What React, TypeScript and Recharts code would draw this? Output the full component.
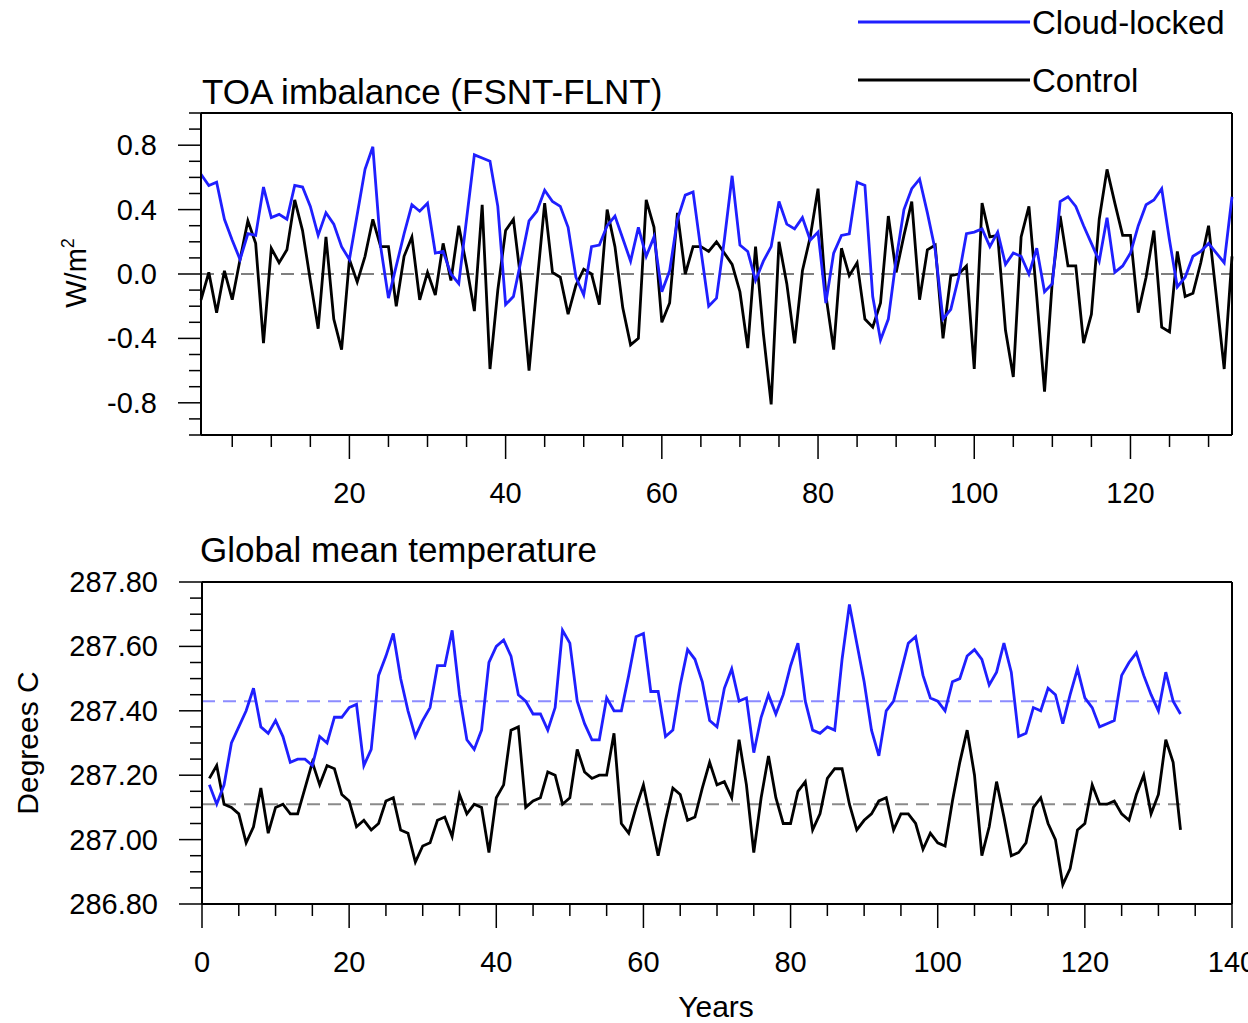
import { LineChart, Line, XAxis, YAxis, ReferenceLine, Legend } from "recharts";

const FONT = '"Liberation Sans", Arial, Helvetica, sans-serif';

// TOA imbalance (W/m2), years 1..133
const toaCloud = [
  0.62, 0.55, 0.57, 0.34, 0.21, 0.09, 0.25, 0.24, 0.54, 0.35,
  0.37, 0.34, 0.55, 0.54, 0.42, 0.24, 0.38, 0.31, 0.17, 0.09,
  0.37, 0.65, 0.79, 0.17, -0.15, 0.05, 0.25, 0.43, 0.39, 0.44,
  0.13, 0.14, 0.0, -0.06, 0.34, 0.74, 0.72, 0.7, 0.42, -0.19,
  -0.14, 0.09, 0.33, 0.39, 0.52, 0.45, 0.42, 0.29, -0.02, -0.13,
  0.17, 0.18, 0.3, 0.36, 0.22, 0.08, 0.29, 0.11, 0.23, -0.11,
  0.02, 0.34, 0.49, 0.51, 0.15, -0.2, -0.15, 0.21, 0.61, 0.18,
  0.14, -0.04, 0.08, 0.17, 0.45, 0.31, 0.28, 0.35, 0.21, 0.26,
  -0.18, 0.13, 0.24, 0.25, 0.57, 0.55, -0.14, -0.41, -0.28, 0.09,
  0.4, 0.53, 0.59, 0.38, 0.15, -0.28, -0.22, -0.02, 0.25, 0.26,
  0.28, 0.17, 0.26, 0.06, 0.13, 0.11, 0.0, 0.16, -0.11, -0.06,
  0.45, 0.48, 0.42, 0.3, 0.19, 0.08, 0.35, 0.01, 0.05, 0.13,
  0.3, 0.43, 0.46, 0.53, 0.21, -0.08, -0.02, 0.11, 0.14, 0.19,
  0.13, 0.07, 0.48,
];

const toaControl = [
  -0.16, 0.01, -0.24, 0.02, -0.16, 0.09, 0.33, 0.19, -0.43, 0.16,
  0.07, 0.15, 0.46, 0.27, -0.04, -0.34, 0.23, -0.28, -0.47, 0.09,
  -0.05, 0.11, 0.34, 0.17, 0.17, -0.2, 0.11, 0.23, -0.16, 0.01,
  -0.13, 0.19, -0.04, 0.3, 0.05, -0.23, 0.43, -0.59, -0.1, 0.27,
  0.34, -0.06, -0.6, -0.07, 0.44, 0.01, -0.02, -0.25, -0.07, 0.03,
  0.0, -0.19, 0.4, 0.17, -0.21, -0.44, -0.4, 0.46, 0.29, -0.3,
  -0.18, 0.38, 0.0, 0.17, 0.17, 0.14, 0.2, 0.13, 0.06, -0.11,
  -0.46, 0.17, -0.37, -0.81, 0.2, -0.06, -0.43, 0.02, 0.23, 0.53,
  -0.13, -0.47, 0.16, -0.01, 0.07, -0.28, -0.33, -0.18, 0.36, 0.01,
  0.24, 0.45, -0.16, 0.15, 0.18, -0.4, -0.01, 0.0, 0.05, -0.59,
  0.44, 0.23, 0.24, -0.35, -0.64, 0.23, 0.42, -0.14, -0.73, -0.04,
  0.36, 0.05, 0.05, -0.43, -0.25, 0.34, 0.65, 0.44, 0.24, 0.24,
  -0.24, -0.02, 0.27, -0.33, -0.36, 0.14, -0.14, -0.12, 0.07, 0.3,
  -0.14, -0.59, 0.11,
];

// Global mean temperature, years 1..133
const tempCloud = [
  287.17, 287.11, 287.17, 287.3, 287.35, 287.4, 287.47, 287.35, 287.33, 287.37,
  287.32, 287.24, 287.25, 287.25, 287.23, 287.32, 287.3, 287.38, 287.38, 287.41,
  287.42, 287.23, 287.28, 287.51, 287.57, 287.64, 287.5, 287.4, 287.32, 287.37,
  287.41, 287.54, 287.54, 287.65, 287.45, 287.31, 287.28, 287.34, 287.55, 287.6,
  287.62, 287.57, 287.45, 287.43, 287.39, 287.39, 287.34, 287.41, 287.65, 287.61,
  287.43, 287.36, 287.31, 287.31, 287.44, 287.4, 287.4, 287.51, 287.63, 287.64,
  287.46, 287.46, 287.32, 287.34, 287.48, 287.59, 287.56, 287.49, 287.37, 287.35,
  287.47, 287.53, 287.43, 287.44, 287.27, 287.38, 287.45, 287.39, 287.45, 287.54,
  287.61, 287.43, 287.34, 287.33, 287.35, 287.34, 287.56, 287.73, 287.61, 287.49,
  287.34, 287.26, 287.4, 287.43, 287.52, 287.61, 287.63, 287.51, 287.44, 287.43,
  287.4, 287.49, 287.5, 287.57, 287.59, 287.56, 287.48, 287.52, 287.61, 287.52,
  287.32, 287.33, 287.41, 287.4, 287.47, 287.45, 287.36, 287.45, 287.53, 287.44,
  287.41, 287.35, 287.36, 287.37, 287.51, 287.55, 287.58, 287.51, 287.45, 287.4,
  287.52, 287.43, 287.39,
];

const tempControl = [
  287.19, 287.23, 287.11, 287.1, 287.08, 286.99, 287.04, 287.16, 287.02, 287.1,
  287.11, 287.08, 287.08, 287.16, 287.24, 287.17, 287.23, 287.22, 287.14, 287.12,
  287.04, 287.06, 287.03, 287.05, 287.12, 287.13, 287.03, 287.02, 286.93, 286.98,
  286.99, 287.06, 287.07, 287.01, 287.14, 287.08, 287.11, 287.1, 286.96, 287.13,
  287.17, 287.34, 287.35, 287.1, 287.12, 287.13, 287.21, 287.2, 287.11, 287.13,
  287.28, 287.21, 287.19, 287.2, 287.2, 287.33, 287.05, 287.02, 287.1, 287.17,
  287.06, 286.95, 287.06, 287.16, 287.14, 287.06, 287.07, 287.16, 287.24, 287.17,
  287.18, 287.13, 287.31, 287.17, 286.96, 287.13, 287.26, 287.13, 287.05, 287.05,
  287.15, 287.18, 287.03, 287.08, 287.19, 287.22, 287.22, 287.11, 287.03, 287.06,
  287.08, 287.12, 287.13, 287.03, 287.08, 287.08, 287.05, 286.97, 287.02, 286.99,
  286.98, 287.12, 287.24, 287.34, 287.2, 286.95, 287.04, 287.18, 287.07, 286.95,
  286.96, 286.99, 287.1, 287.13, 287.05, 287.0, 286.86, 286.91, 287.03, 287.05,
  287.17, 287.11, 287.11, 287.12, 287.08, 287.06, 287.14, 287.2, 287.08, 287.14,
  287.31, 287.24, 287.03,
];

const cloudMean = 287.43;
const controlMean = 287.11;

const topXTicks = [5, 10, 15, 20, 25, 30, 35, 40, 45, 50, 55, 60, 65, 70, 75, 80, 85, 90, 95, 100, 105, 110, 115, 120, 125, 130];
const topXLabels = [20, 40, 60, 80, 100, 120];
const topYTicks = [-1.0, -0.9, -0.8, -0.7, -0.6, -0.5, -0.4, -0.3, -0.2, -0.1, 0.0, 0.1, 0.2, 0.3, 0.4, 0.5, 0.6, 0.7, 0.8, 0.9, 1.0];
const topYLabels = [-0.8, -0.4, 0.0, 0.4, 0.8];

const botXTicks = [0, 5, 10, 15, 20, 25, 30, 35, 40, 45, 50, 55, 60, 65, 70, 75, 80, 85, 90, 95, 100, 105, 110, 115, 120, 125, 130, 135, 140];
const botXLabels = [0, 20, 40, 60, 80, 100, 120, 140];
const botYTicks = [
  286.8, 286.85, 286.9, 286.95, 287.0, 287.05, 287.1, 287.15, 287.2, 287.25, 287.3,
  287.35, 287.4, 287.45, 287.5, 287.55, 287.6, 287.65, 287.7, 287.75, 287.8,
];
const botYLabels = [286.8, 287.0, 287.2, 287.4, 287.6, 287.8];

const years = toaCloud.map((_, i) => i + 1);
const topRows = years.map((year, i) => ({ year, cloud: toaCloud[i], control: toaControl[i] }));
const botRows = years.map((year, i) => ({ year, cloud: tempCloud[i], control: tempControl[i] }));

const BLUE = "#1f1fff";
const TICK_FONT = 29;
const LINE_W = 2.8;

const isMajor = (list: number[], v: number) => list.some((m) => Math.abs(m - v) < 1e-6);

function xTick(labels: number[]) {
  return function XTick(props: any) {
    const { x, y, payload } = props;
    const major = isMajor(labels, payload.value);
    return (
      <g>
        <line x1={x} x2={x} y1={y} y2={y + (major ? 24 : 12)} stroke="#000" strokeWidth={1.5} />
        {major && (
          <text x={x} y={y + 68} textAnchor="middle" fontSize={TICK_FONT} fontFamily={FONT} fill="#000">
            {payload.value}
          </text>
        )}
      </g>
    );
  };
}

function yTick(labels: number[], digits: number) {
  return function YTick(props: any) {
    const { x, y, payload } = props;
    const major = isMajor(labels, payload.value);
    return (
      <g>
        <line x1={x} x2={x - (major ? 23 : 12)} y1={y} y2={y} stroke="#000" strokeWidth={1.5} />
        {major && (
          <text x={x - 44} y={y + 10} textAnchor="end" fontSize={TICK_FONT} fontFamily={FONT} fill="#000">
            {Number(payload.value).toFixed(digits)}
          </text>
        )}
      </g>
    );
  };
}

function LegendBox(props: any) {
  const items = [...(props.payload || [])].sort((a: any, b: any) =>
    a.value === "Cloud-locked" ? -1 : b.value === "Cloud-locked" ? 1 : 0,
  );
  return (
    <svg width={400} height={110} style={{ display: "block" }}>
      {items.map((it: any, i: number) => (
        <g key={it.value}>
          <line x1={8} x2={180} y1={22 + i * 58} y2={22 + i * 58} stroke={it.color} strokeWidth={LINE_W} />
          <text x={182} y={34 + i * 58} fontSize={33} fontFamily={FONT} fill="#000">
            {it.value}
          </text>
        </g>
      ))}
    </svg>
  );
}

const axisLine = { stroke: "#000", strokeWidth: 2 };

export default function App() {
  return (
    <div style={{ position: "absolute", left: 0, top: 0, width: 1248, height: 1023, background: "#fff", fontFamily: FONT }}>
      <div style={{ position: "absolute", left: 0, top: 0 }}>
        <LineChart width={1248} height={520} data={topRows} margin={{ top: 113, right: 16, bottom: 0, left: 0 }}>
          <XAxis
            dataKey="year"
            type="number"
            domain={[1, 133]}
            ticks={topXTicks}
            interval={0}
            tickSize={0}
            tickMargin={0}
            tickLine={false}
            axisLine={axisLine}
            height={85}
            tick={xTick(topXLabels)}
          />
          <YAxis
            type="number"
            domain={[-1, 1]}
            ticks={topYTicks}
            interval={0}
            tickSize={0}
            tickMargin={0}
            tickLine={false}
            axisLine={axisLine}
            width={201}
            tick={yTick(topYLabels, 1)}
          />
          <ReferenceLine y={0} stroke="#555" strokeWidth={1.5} strokeDasharray="13 7" />
          <ReferenceLine y={1} stroke="#000" strokeWidth={2} />
          <ReferenceLine x={133} stroke="#000" strokeWidth={2} />
          <Line type="linear" dataKey="control" name="Control" stroke="#000" strokeWidth={LINE_W} dot={false} isAnimationActive={false} />
          <Line type="linear" dataKey="cloud" name="Cloud-locked" stroke={BLUE} strokeWidth={LINE_W} dot={false} isAnimationActive={false} />
          <Legend
            layout="horizontal"
            verticalAlign="middle"
            align="center"
            wrapperStyle={{ top: 0, left: 850, width: 400, height: 110 }}
            content={LegendBox}
          />
        </LineChart>
      </div>

      <div style={{ position: "absolute", left: 0, top: 520 }}>
        <LineChart width={1248} height={503} data={botRows} margin={{ top: 62, right: 16, bottom: 0, left: 0 }}>
          <XAxis
            dataKey="year"
            type="number"
            domain={[0, 140]}
            ticks={botXTicks}
            interval={0}
            tickSize={0}
            tickMargin={0}
            tickLine={false}
            axisLine={axisLine}
            height={119}
            tick={xTick(botXLabels)}
          />
          <YAxis
            type="number"
            domain={[286.8, 287.8]}
            ticks={botYTicks}
            interval={0}
            tickSize={0}
            tickMargin={0}
            tickLine={false}
            axisLine={axisLine}
            width={202}
            tick={yTick(botYLabels, 2)}
          />
          <ReferenceLine
            segment={[{ x: 0, y: cloudMean }, { x: 133, y: cloudMean }]}
            stroke="#8c8cff"
            strokeWidth={2}
            strokeDasharray="13 8"
          />
          <ReferenceLine
            segment={[{ x: 0, y: controlMean }, { x: 133, y: controlMean }]}
            stroke="#8a8a8a"
            strokeWidth={2}
            strokeDasharray="13 8"
          />
          <ReferenceLine y={287.8} stroke="#000" strokeWidth={2} />
          <ReferenceLine x={140} stroke="#000" strokeWidth={2} />
          <Line type="linear" dataKey="control" name="Control" stroke="#000" strokeWidth={LINE_W} dot={false} isAnimationActive={false} />
          <Line type="linear" dataKey="cloud" name="Cloud-locked" stroke={BLUE} strokeWidth={LINE_W} dot={false} isAnimationActive={false} />
        </LineChart>
      </div>

      <svg width={1248} height={1023} style={{ position: "absolute", left: 0, top: 0, pointerEvents: "none" }}>
        <text x={202} y={104} fontSize={35} fontFamily={FONT} fill="#000">TOA imbalance (FSNT-FLNT)</text>
        <text x={200} y={562} fontSize={35} fontFamily={FONT} fill="#000">Global mean temperature</text>
        <text x={716} y={1017} textAnchor="middle" fontSize={30} fontFamily={FONT} fill="#000">Years</text>
        <text transform="translate(38,743) rotate(-90)" textAnchor="middle" fontSize={30} fontFamily={FONT} fill="#000">
          Degrees C
        </text>
        <text transform="translate(86,273) rotate(-90)" textAnchor="middle" fontSize={29} fontFamily={FONT} fill="#000">
          W/m<tspan fontSize={18} dy={-12}>2</tspan>
        </text>
      </svg>
    </div>
  );
}
